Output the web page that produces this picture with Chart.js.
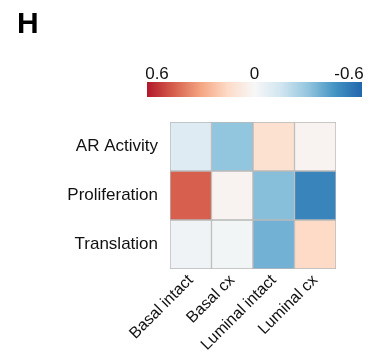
<!DOCTYPE html>
<html>
<head>
<meta charset="utf-8">
<script src="https://cdn.jsdelivr.net/npm/chart.js@4"></script>
<style>
  body { margin: 0; background: #fff; }
  #heat { display: block; }
</style>
</head>
<body>
<canvas id="heat" width="383" height="362"></canvas>
<script>
// data
var columns = ['Basal intact', 'Basal cx', 'Luminal intact', 'Luminal cx'];
var rows = ['AR Activity', 'Proliferation', 'Translation'];
var arActivity = [-0.10, -0.30, 0.12, 0.02];
var proliferation = [0.45, 0.02, -0.32, -0.50];
var translation = [-0.03, -0.02, -0.36, 0.15];
var scaleTicks = [0.6, 0, -0.6];

var values = [arActivity, proliferation, translation];

// RdBu, 0.6 -> red, -0.6 -> blue
var stops = ['#b2182b', '#d6604d', '#f4a582', '#fddbc7', '#f7f7f7', '#d1e5f0', '#92c5de', '#4393c3', '#2166ac'];
function hex(c) { return [parseInt(c.substr(1, 2), 16), parseInt(c.substr(3, 2), 16), parseInt(c.substr(5, 2), 16)]; }
function colorFor(v) {
    var t = (0.6 - v) / 1.2;
    t = Math.max(0, Math.min(1, t)) * (stops.length - 1);
    var i = Math.min(Math.floor(t), stops.length - 2);
    var f = t - i;
    var a = hex(stops[i]), b = hex(stops[i + 1]);
    return 'rgb(' + [0, 1, 2].map(function (k) { return Math.round(a[k] + (b[k] - a[k]) * f); }).join(',') + ')';
}

var datasets = rows.map(function (name, r) {
    var lo = rows.length - 1 - r;
    return {
        label: name,
        data: columns.map(function () { return [lo, lo + 1]; }),
        backgroundColor: values[r].map(colorFor),
        borderColor: '#b8b8b8',
        borderWidth: 1,
        borderSkipped: false,
        categoryPercentage: 1,
        barPercentage: 1,
        grouped: false
    };
});

var colorbar = {
    id: 'colorbar',
    afterDraw: function (chart) {
        var c = chart.ctx;
        var x0 = 147, x1 = 362, y0 = 82, h = 15;
        var g = c.createLinearGradient(x0, 0, x1, 0);
        stops.forEach(function (s, i) { g.addColorStop(i / (stops.length - 1), s); });
        c.save();
        c.fillStyle = g;
        c.fillRect(x0, y0, x1 - x0, h);
        c.fillStyle = '#111';
        c.font = '17px "Liberation Sans", Arial, sans-serif';
        c.textAlign = 'center';
        c.textBaseline = 'alphabetic';
        scaleTicks.forEach(function (v) {
            var x = x0 + (0.6 - v) / 1.2 * (x1 - x0);
            if (v === 0.6) x = 157;
            if (v === -0.6) x = 349;
            c.fillText(String(v), x, 79);
        });
        c.font = 'bold 30px "Liberation Sans", Arial, sans-serif';
        c.textAlign = 'left';
        c.fillStyle = '#000';
        c.fillText('H', 17, 33);
        c.restore();
    }
};

var ctx = document.getElementById('heat').getContext('2d');
var heat = new Chart(ctx, {
    type: 'bar',
    data: { labels: columns, datasets: datasets },
    options: {
        responsive: false,
        animation: false,
        layout: { padding: { top: 122, right: 47, left: 0, bottom: 0 } },
        plugins: { legend: { display: false }, tooltip: { enabled: false } },
        scales: {
            x: {
                grid: { display: false },
                border: { display: false },
                ticks: {
                    color: '#111',
                    font: { family: '"Liberation Sans", Arial, sans-serif', size: 16 },
                    minRotation: 45,
                    maxRotation: 45,
                    padding: -6
                },
                afterFit: function (s) { s.height = 93; }
            },
            y: {
                min: 0,
                max: rows.length,
                grid: { display: false },
                border: { display: false },
                afterBuildTicks: function (s) {
                    s.ticks = rows.map(function (r, i) { return { value: rows.length - 0.5 - i }; });
                },
                ticks: {
                    color: '#111',
                    font: { family: '"Liberation Sans", Arial, sans-serif', size: 17 },
                    padding: 4,
                    callback: function (v) {
                        return rows[Math.round(rows.length - 0.5 - v)];
                    }
                },
                afterFit: function (s) { s.width = 170; }
            }
        }
    },
    plugins: [colorbar]
});
</script>
</body>
</html>
